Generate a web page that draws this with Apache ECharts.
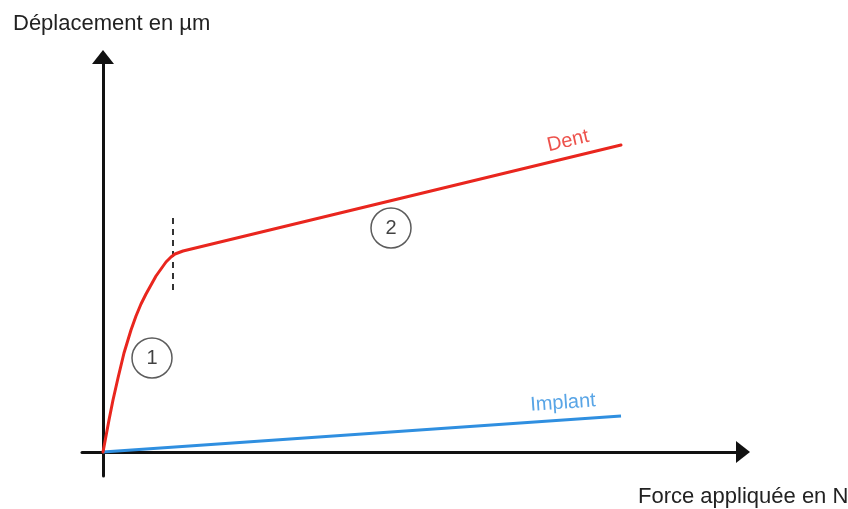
<!DOCTYPE html>
<html>
<head>
<meta charset="utf-8">
<script src="https://cdn.jsdelivr.net/npm/echarts@6/dist/echarts.min.js"></script>
<style>
html,body{margin:0;padding:0;background:#fff;}
#chart{width:848px;height:509px;}
</style>
</head>
<body>
<div id="chart"></div>
<script>
// Data (arbitrary units)
const dentX = [0, 3, 6, 10, 15, 21, 28, 33, 38, 43, 48, 53, 58, 63, 68, 72, 80, 518];
const dentY = [0, 16, 32, 52, 74, 99, 122, 136, 148, 158, 167, 176, 183, 190, 195, 198, 201, 307];
const implantX = [0, 518];
const implantY = [0, 36];
const kneeX = [70, 70];
const kneeY = [162, 235];
const phaseLabels = ['1', '2'];
const phaseX = [49, 288];
const phaseY = [94, 224];
const curveNames = ['Dent', 'Implant'];
const curveLabelX = [465, 460];
const curveLabelY = [311, 49];
const xTitle = 'Force appliquée en N';
const yTitle = 'Déplacement en µm';

const zip = (xs, ys) => xs.map((x, i) => [x, ys[i]]);

const red = '#e9261e';
const blue = '#2f8fe0';
const font = 'Liberation Sans, Arial, Helvetica, sans-serif';

const chart = echarts.init(document.getElementById('chart'), null, {renderer: 'canvas'});
chart.setOption({
  animation: false,
  backgroundColor: '#ffffff',
  grid: {left: 82, right: 105, top: 57, bottom: 33, containLabel: false},
  xAxis: {
    type: 'value', min: -21, max: 640,
    axisLine: {onZero: true, symbol: ['none', 'triangle'], symbolSize: [22, 14],
      lineStyle: {color: '#111', width: 3}},
    axisTick: {show: false}, axisLabel: {show: false}, splitLine: {show: false}
  },
  yAxis: {
    type: 'value', min: -24, max: 395,
    axisLine: {onZero: true, symbol: ['none', 'triangle'], symbolSize: [22, 14],
      lineStyle: {color: '#111', width: 3}},
    axisTick: {show: false}, axisLabel: {show: false}, splitLine: {show: false}
  },
  graphic: [
    {type: 'text', left: 13, top: 13, style: {text: yTitle, font: '22px ' + font, fill: '#222'}},
    {type: 'text', left: 638, top: 486, style: {text: xTitle, font: '22px ' + font, fill: '#222'}}
  ],
  series: [
    {
      name: 'Implant', type: 'line', data: zip(implantX, implantY), showSymbol: false,
      lineStyle: {color: blue, width: 3}, z: 3
    },
    {
      name: 'Dent', type: 'line', data: zip(dentX, dentY), showSymbol: false,
      smooth: false,
      lineStyle: {color: red, width: 3, join: 'round', cap: 'round'}, z: 4
    },
    {
      name: 'knee', type: 'line', data: zip(kneeX, kneeY), showSymbol: false,
      lineStyle: {color: '#333', width: 2, type: [6, 5]}, z: 2
    },
    {
      name: 'phases', type: 'scatter', data: zip(phaseX, phaseY),
      symbol: 'circle', symbolSize: 40,
      itemStyle: {color: 'rgba(255,255,255,0)', borderColor: '#333', borderWidth: 1.5},
      label: {show: true, position: 'inside', formatter: p => phaseLabels[p.dataIndex],
        color: '#111', fontSize: 20, fontFamily: font},
      z: 5
    },
    {
      name: 'curveLabels', type: 'scatter',
      data: zip(curveLabelX, curveLabelY).map((v, i) => ({
        value: v,
        label: {color: i === 0 ? red : blue, rotate: i === 0 ? 13 : 4}
      })),
      symbolSize: 0,
      label: {show: true, position: 'inside',
        formatter: p => curveNames[p.dataIndex],
        fontSize: 20, fontFamily: font},
      itemStyle: {color: 'rgba(0,0,0,0)'},
      z: 5
    }
  ]
});
</script>
</body>
</html>
